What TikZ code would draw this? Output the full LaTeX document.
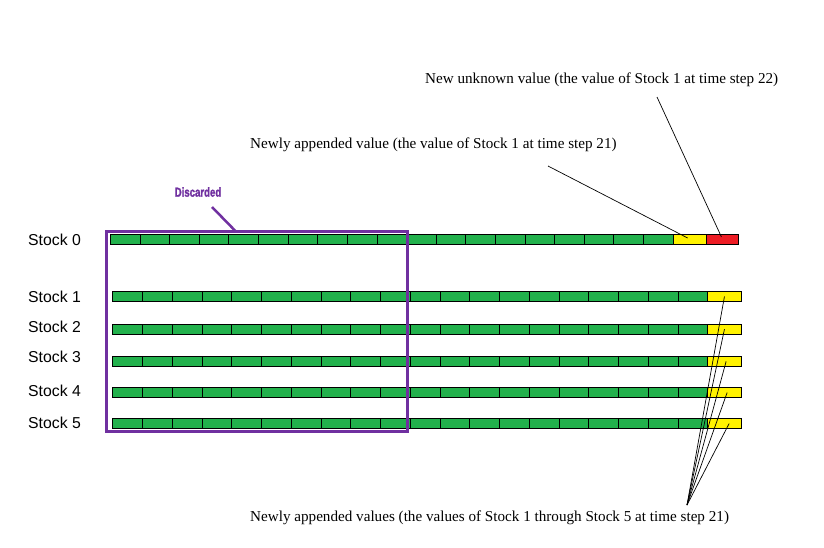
\documentclass[tikz,border=0pt]{standalone}
\usepackage{fontspec}
\setmainfont{Liberation Serif}
\newfontfamily\arialf{Liberation Sans}
\newfontfamily\discf[FakeStretch=0.74,FakeBold=1.6]{Liberation Sans}
\definecolor{cgreen}{HTML}{22B14C}
\definecolor{cyellow}{HTML}{FFF200}
\definecolor{cred}{HTML}{ED1C24}
\definecolor{cpurple}{HTML}{7030A0}
\begin{document}
\begin{tikzpicture}[x=1pt,y=-1pt,
  cell/.style={rectangle, draw=black, line width=0.9pt, inner sep=0pt, minimum height=10pt, anchor=west},
  gcell/.style={cell, fill=cgreen},
  ycell/.style={cell, fill=cyellow},
  rcell/.style={cell, fill=cred},
  stocklbl/.style={anchor=west, inner sep=0pt, font=\arialf\fontsize{15.8}{18}\selectfont},
  annot/.style={anchor=west, inner sep=0pt, font=\fontsize{15.15}{18}\selectfont},
  ann/.style={draw=black, line width=0.7pt},
  discbox/.style={rectangle, draw=cpurple, line width=3pt, inner sep=0pt},
  disclbl/.style={text=cpurple, inner sep=0pt, font=\discf\bfseries\fontsize{13}{15}\selectfont},
  discline/.style={draw=cpurple, line width=2.5pt}]
\useasboundingbox (0,0) rectangle (824,547);
\fill[white] (0,0) rectangle (824,547);
% Stock 0
\node[stocklbl] (l0) at (28,240) {Stock 0};
\foreach \i in {1,...,19} {
  \node[gcell, minimum width=29.616pt] (s0-c\i) at ({110+(\i-1)*29.616},239) {};
}
\node[ycell, minimum width=33pt] (s0y) at (672.7,239) {};
\node[rcell, minimum width=32.6pt] (s0r) at (705.7,239) {};
% Stocks 1-5
\foreach \r/\yy/\ty in {1/296.5/296.7, 2/329.2/327, 3/361.3/357, 4/392.5/390.5, 5/423.5/422.5} {
  \node[stocklbl] (l\r) at (28,\ty) {Stock \r};
  \foreach \i in {1,...,20} {
    \node[gcell, minimum width=29.75pt] (s\r-c\i) at ({112.3+(\i-1)*29.75},\yy) {};
  }
  \node[ycell, minimum width=33.4pt] (s\r y) at (707.3,\yy) {};
}
% Discarded box
\node[discbox, minimum width=301.7pt, minimum height=200.2pt] (box) at (256.85,331.6) {};
\node[disclbl] (disc) at (198,192) {Discarded};
\coordinate (dstart) at (212,207);
\coordinate (dend) at (236,231.6);
\draw[discline] (dstart) -- (dend);
% annotations
\node[annot] (t1) at (425,80) {New unknown value (the value of Stock 1 at time step 22)};
\node[annot] (t2) at (250,145) {Newly appended value (the value of Stock 1 at time step 21)};
\node[annot] (t3) at (250,518) {Newly appended values (the values of Stock 1 through Stock 5 at time step 21)};
\coordinate (a1) at (548,166);
\coordinate (a2) at (657,97);
\draw[ann] (a1) -- ([shift={(-2,-1)}]s0y.center);
\draw[ann] (a2) -- ([shift={(-1,-2)}]s0r.center);
\coordinate (fan) at (687,505);
\draw[ann] (fan) -- (s1y.center);
\draw[ann] (fan) -- (s2y.center);
\draw[ann] (fan) -- ([xshift=1.7pt]s3y.center);
\draw[ann] (fan) -- ([xshift=2.7pt]s4y.center);
\draw[ann] (fan) -- ([xshift=4.7pt]s5y.center);
\end{tikzpicture}
\end{document}
